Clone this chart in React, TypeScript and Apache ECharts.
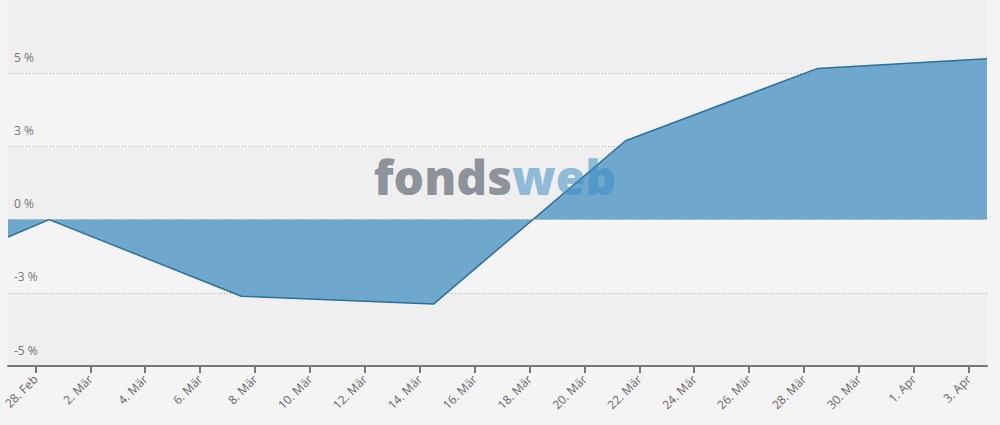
import React, { useEffect, useRef } from "react";
import * as echarts from "echarts";

// Data (weekly performance, %)
const pointDates = [
  "2023-02-27T00:00:00Z",
  "2023-02-28T12:00:00Z",
  "2023-03-07T12:00:00Z",
  "2023-03-14T12:00:00Z",
  "2023-03-21T12:00:00Z",
  "2023-03-28T12:00:00Z",
  "2023-04-03T16:00:00Z",
];
const pointValues = [-0.62, 0.0, -2.72, -3.0, 2.8, 5.37, 5.71];

// X tick positions and labels
const xTickDates = [
  "2023-02-28", "2023-03-02", "2023-03-04", "2023-03-06", "2023-03-08",
  "2023-03-10", "2023-03-12", "2023-03-14", "2023-03-16", "2023-03-18",
  "2023-03-20", "2023-03-22", "2023-03-24", "2023-03-26", "2023-03-28",
  "2023-03-30", "2023-04-01", "2023-04-03",
];
const xTickLabels = [
  "28. Feb", "2. Mär", "4. Mär", "6. Mär", "8. Mär",
  "10. Mär", "12. Mär", "14. Mär", "16. Mär", "18. Mär",
  "20. Mär", "22. Mär", "24. Mär", "26. Mär", "28. Mär",
  "30. Mär", "1. Apr", "3. Apr",
];

// Y axis ticks and labels
const yMin = -5.2;
const yMax = 7.8;
const yStep = 2.6;
const yTickLabels = ["-5 %", "-3 %", "0 %", "3 %", "5 %", ""];

export default function App() {
  const ref = useRef<HTMLDivElement>(null);
  useEffect(() => {
    if (!ref.current) return;
    const chart = echarts.init(ref.current, undefined, { renderer: "svg" });
    const ts = pointDates.map((d) => new Date(d).getTime());
    const tickTs = xTickDates.map((d) => new Date(d + "T00:00:00Z").getTime());
    const data = ts.map((t, i) => [t, pointValues[i]]);
    chart.setOption({
      animation: false,
      backgroundColor: "#f5f4f4",
      grid: { left: 8, right: 13, top: 0, bottom: 59, containLabel: false },
      xAxis: {
        type: "value",
        min: ts[0],
        max: ts[ts.length - 1],
        axisLine: { show: true, onZero: false, lineStyle: { color: "#777", width: 2 } },
        axisTick: {
          show: true,
          customValues: tickTs,
          length: 7,
          lineStyle: { color: "#777", width: 2 },
        },
        axisLabel: {
          customValues: tickTs,
          rotate: 45,
          margin: 11,
          color: "#666",
          fontSize: 12,
          fontFamily: "Open Sans",
          formatter: (v: number) => {
            let best = 0;
            let bd = Infinity;
            tickTs.forEach((t, i) => {
              const d = Math.abs(t - v);
              if (d < bd) { bd = d; best = i; }
            });
            return xTickLabels[best];
          },
        },
        splitLine: { show: false },
      },
      yAxis: {
        type: "value",
        min: yMin,
        max: yMax,
        interval: yStep,
        axisLine: { show: false },
        axisTick: { show: false },
        splitLine: {
          show: true,
          showMaxLine: false,
          lineStyle: { color: "#aaa", type: [1, 2], width: 1 },
        },
        splitArea: { show: true, areaStyle: { color: ["#efefef", "#f5f4f4"] } },
        axisLabel: {
          inside: true,
          margin: 6,
          verticalAlign: "bottom",
          padding: [0, 0, 10, 0],
          color: "#777",
          fontSize: 12,
          fontFamily: "Open Sans",
          showMaxLabel: false,
          formatter: (v: number) => yTickLabels[Math.round((v - yMin) / yStep)] ?? "",
        },
      },
      series: [
        {
          type: "line",
          data,
          symbol: "none",
          lineStyle: { color: "#2c6f9c", width: 1.5 },
          areaStyle: { color: "#60a0c8", opacity: 0.9, origin: "auto" },
          z: 2,
        },
      ],
      graphic: [
        {
          type: "text",
          x: 512,
          y: 176,
          z: 100,
          style: {
            text: "fonds",
            align: "right",
            verticalAlign: "middle",
            fill: "#4a5462",
            opacity: 0.6,
            font: "800 48px 'Open Sans'",
          },
        },
        {
          type: "text",
          x: 512,
          y: 176,
          z: 100,
          style: {
            text: "web",
            align: "left",
            verticalAlign: "middle",
            fill: "#3b8cc4",
            opacity: 0.55,
            font: "800 48px 'Open Sans'",
          },
        },
      ],
    });
    return () => chart.dispose();
  }, []);
  return (
    <div
      ref={ref}
      style={{ position: "absolute", left: 0, top: 0, width: 1000, height: 425 }}
    />
  );
}
